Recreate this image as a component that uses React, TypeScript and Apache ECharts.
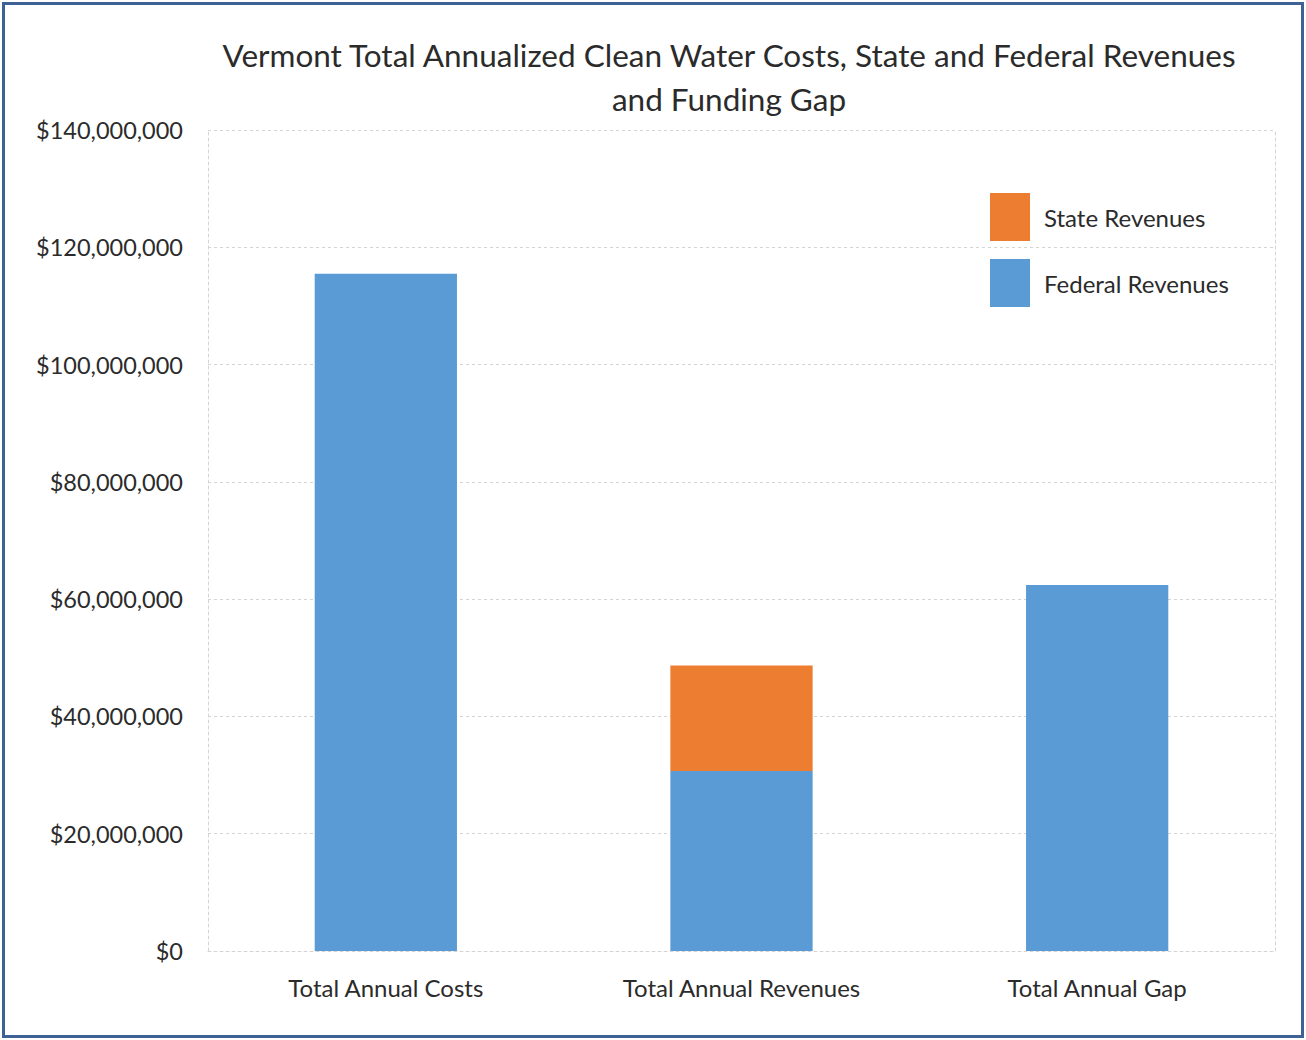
import React, { useEffect, useRef } from "react";
import * as echarts from "echarts";

const categories = ["Total Annual Costs", "Total Annual Revenues", "Total Annual Gap"];
const federalValues = [115500000, 30700000, 62400000];
const stateValues: (number | null)[] = [null, 18000000, null];
const yTicks = { min: 0, max: 140000000, interval: 20000000 };
const titleLines = [
  "Vermont Total Annualized Clean Water Costs, State and Federal Revenues",
  "and Funding Gap",
];

const FONT = "Lato, 'Liberation Sans', sans-serif";
const TEXT = "#2b2b2b";
const GRIDC = "#d4d4d4";

export default function App() {
  const ref = useRef<HTMLDivElement>(null);
  useEffect(() => {
    document.body.style.margin = "0";
    const chart = echarts.init(ref.current!, null, { renderer: "svg" });
    const fmt = (v: number) => "$" + v.toLocaleString("en-US");
    chart.setOption({
      animation: false,
      backgroundColor: "#ffffff",
      textStyle: { fontFamily: FONT },
      graphic: [
        {
          type: "rect",
          shape: { x: 3.5, y: 3.5, width: 1299, height: 1033 },
          style: { fill: "none", stroke: "#3e6296", lineWidth: 3 },
          z: 100,
        },
        {
          type: "text",
          x: 729,
          y: 33,
          style: {
            text: titleLines.join("\n"),
            textAlign: "center",
            textVerticalAlign: "top",
            font: `31.5px ${FONT}`,
            lineHeight: 44,
            fill: TEXT,
          },
        },
      ],
      legend: {
        orient: "vertical",
        left: 990,
        top: 193,
        padding: 0,
        itemWidth: 40,
        itemHeight: 48,
        itemGap: 18,
        icon: "rect",
        data: ["State Revenues", "Federal Revenues"],
        textStyle: { fontSize: 24, color: TEXT, fontFamily: FONT, padding: [0, 0, 0, 9] },
      },
      grid: { left: 208, right: 31, top: 130, bottom: 89, containLabel: false },
      xAxis: {
        type: "category",
        data: categories,
        axisTick: { show: false },
        axisLine: { show: true, lineStyle: { color: GRIDC, type: [3, 3], width: 1 } },
        axisLabel: { color: TEXT, fontSize: 24, margin: 24, fontFamily: FONT },
      },
      yAxis: [
        {
          type: "value",
          min: yTicks.min,
          max: yTicks.max,
          interval: yTicks.interval,
          axisLine: { show: true, lineStyle: { color: GRIDC, type: [3, 3], width: 1 } },
          axisTick: { show: false },
          splitLine: { show: true, lineStyle: { color: GRIDC, type: [3, 3], width: 1 } },
          axisLabel: { color: TEXT, fontSize: 23.5, margin: 25, formatter: fmt, fontFamily: FONT },
        },
        {
          type: "value",
          position: "right",
          min: yTicks.min,
          max: yTicks.max,
          interval: yTicks.interval,
          axisLine: { show: true, lineStyle: { color: GRIDC, type: [3, 3], width: 1 } },
          axisTick: { show: false },
          splitLine: { show: false },
          axisLabel: { show: false },
        },
      ],
      series: [
        {
          name: "Federal Revenues",
          type: "bar",
          stack: "total",
          data: federalValues,
          barWidth: "40%",
          itemStyle: { color: "#5b9bd5" },
        },
        {
          name: "State Revenues",
          type: "bar",
          stack: "total",
          data: stateValues,
          barWidth: "40%",
          itemStyle: { color: "#ed7d31" },
        },
      ],
    });
    return () => chart.dispose();
  }, []);
  return <div ref={ref} style={{ width: 1306, height: 1040 }} />;
}
